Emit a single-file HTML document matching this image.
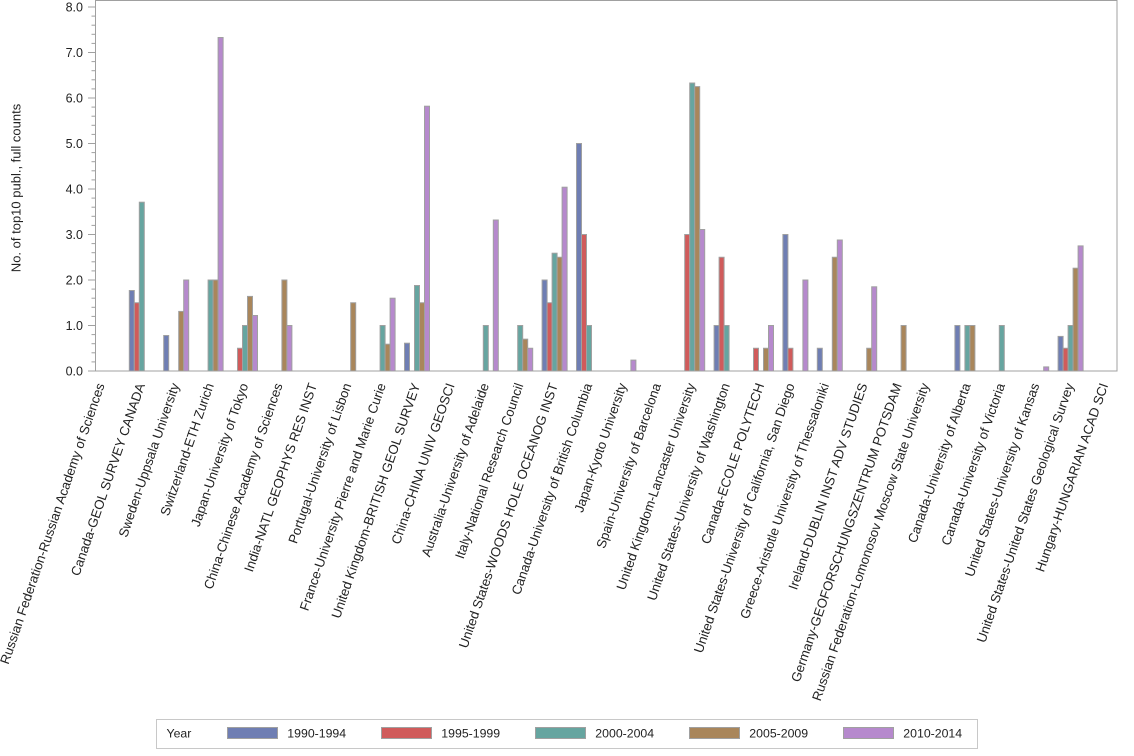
<!DOCTYPE html>
<html>
<head>
<meta charset="utf-8">
<style>
html,body{margin:0;padding:0;background:#fff;}
svg{display:block;}
text{font-family:"Liberation Sans",Arial,sans-serif;fill:#222;}
.tk{font-size:12.5px;text-anchor:end;}
.cat{font-size:13.2px;text-anchor:end;}
.lg{font-size:12.3px;}
.b rect{stroke:#a0a0a0;stroke-width:1;}
</style>
</head>
<body>
<svg width="1134" height="756" viewBox="0 0 1134 756" xmlns="http://www.w3.org/2000/svg">
<rect x="0" y="0" width="1134" height="756" fill="#fff"/>
<rect x="95.5" y="0.5" width="1021.5" height="370.5" fill="none" stroke="#a0a0a0" stroke-width="1"/>
<g stroke="#a0a0a0" stroke-width="1">
<line x1="88" y1="371" x2="95" y2="371"/>
<line x1="88" y1="325.5" x2="95" y2="325.5"/>
<line x1="88" y1="280" x2="95" y2="280"/>
<line x1="88" y1="234.5" x2="95" y2="234.5"/>
<line x1="88" y1="189" x2="95" y2="189"/>
<line x1="88" y1="143.5" x2="95" y2="143.5"/>
<line x1="88" y1="98" x2="95" y2="98"/>
<line x1="88" y1="52.5" x2="95" y2="52.5"/>
<line x1="88" y1="7" x2="95" y2="7"/>
<line x1="91.5" y1="361.9" x2="95" y2="361.9"/><line x1="91.5" y1="352.8" x2="95" y2="352.8"/><line x1="91.5" y1="343.7" x2="95" y2="343.7"/><line x1="91.5" y1="334.6" x2="95" y2="334.6"/>
<line x1="91.5" y1="316.4" x2="95" y2="316.4"/><line x1="91.5" y1="307.3" x2="95" y2="307.3"/><line x1="91.5" y1="298.2" x2="95" y2="298.2"/><line x1="91.5" y1="289.1" x2="95" y2="289.1"/>
<line x1="91.5" y1="270.9" x2="95" y2="270.9"/><line x1="91.5" y1="261.8" x2="95" y2="261.8"/><line x1="91.5" y1="252.7" x2="95" y2="252.7"/><line x1="91.5" y1="243.6" x2="95" y2="243.6"/>
<line x1="91.5" y1="225.4" x2="95" y2="225.4"/><line x1="91.5" y1="216.3" x2="95" y2="216.3"/><line x1="91.5" y1="207.2" x2="95" y2="207.2"/><line x1="91.5" y1="198.1" x2="95" y2="198.1"/>
<line x1="91.5" y1="179.9" x2="95" y2="179.9"/><line x1="91.5" y1="170.8" x2="95" y2="170.8"/><line x1="91.5" y1="161.7" x2="95" y2="161.7"/><line x1="91.5" y1="152.6" x2="95" y2="152.6"/>
<line x1="91.5" y1="134.4" x2="95" y2="134.4"/><line x1="91.5" y1="125.3" x2="95" y2="125.3"/><line x1="91.5" y1="116.2" x2="95" y2="116.2"/><line x1="91.5" y1="107.1" x2="95" y2="107.1"/>
<line x1="91.5" y1="88.9" x2="95" y2="88.9"/><line x1="91.5" y1="79.8" x2="95" y2="79.8"/><line x1="91.5" y1="70.7" x2="95" y2="70.7"/><line x1="91.5" y1="61.6" x2="95" y2="61.6"/>
<line x1="91.5" y1="43.4" x2="95" y2="43.4"/><line x1="91.5" y1="34.3" x2="95" y2="34.3"/><line x1="91.5" y1="25.2" x2="95" y2="25.2"/><line x1="91.5" y1="16.1" x2="95" y2="16.1"/>
</g>
<text class="tk" x="83" y="375.5">0.0</text>
<text class="tk" x="83" y="330">1.0</text>
<text class="tk" x="83" y="284.5">2.0</text>
<text class="tk" x="83" y="239">3.0</text>
<text class="tk" x="83" y="193.5">4.0</text>
<text class="tk" x="83" y="148">5.0</text>
<text class="tk" x="83" y="102.5">6.0</text>
<text class="tk" x="83" y="57">7.0</text>
<text class="tk" x="83" y="11.5">8.0</text>
<text x="20.5" y="188" transform="rotate(-90 20.5 188)" text-anchor="middle" style="font-size:13px">No. of top10 publ., full counts</text>

<g class="b">
<rect x="129.3" y="290.5" width="5" height="80.5" fill="#6f7eb3"/>
<rect x="134.3" y="302.75" width="5" height="68.25" fill="#d05b5b"/>
<rect x="139.3" y="202.2" width="5" height="168.8" fill="#66a5a0"/>
<rect x="163.7" y="335.5" width="5" height="35.5" fill="#6f7eb3"/>
<rect x="178.7" y="311.4" width="5" height="59.6" fill="#a9865b"/>
<rect x="183.7" y="280" width="5" height="91" fill="#b689cd"/>
<rect x="208.1" y="280" width="5" height="91" fill="#66a5a0"/>
<rect x="213.1" y="280" width="5" height="91" fill="#a9865b"/>
<rect x="218.1" y="37.5" width="5" height="333.5" fill="#b689cd"/>
<rect x="237.5" y="348.25" width="5" height="22.75" fill="#d05b5b"/>
<rect x="242.5" y="325.5" width="5" height="45.5" fill="#66a5a0"/>
<rect x="247.5" y="296.4" width="5" height="74.6" fill="#a9865b"/>
<rect x="252.5" y="315.5" width="5" height="55.5" fill="#b689cd"/>
<rect x="281.9" y="280" width="5" height="91" fill="#a9865b"/>
<rect x="286.9" y="325.5" width="5" height="45.5" fill="#b689cd"/>
<rect x="350.7" y="302.75" width="5" height="68.25" fill="#a9865b"/>
<rect x="380.1" y="325.5" width="5" height="45.5" fill="#66a5a0"/>
<rect x="385.1" y="344.2" width="5" height="26.8" fill="#a9865b"/>
<rect x="390.1" y="298.2" width="5" height="72.8" fill="#b689cd"/>
<rect x="404.5" y="343.2" width="5" height="27.8" fill="#6f7eb3"/>
<rect x="414.5" y="285.5" width="5" height="85.5" fill="#66a5a0"/>
<rect x="419.5" y="302.75" width="5" height="68.25" fill="#a9865b"/>
<rect x="424.5" y="106.2" width="5" height="264.8" fill="#b689cd"/>
<rect x="483.3" y="325.5" width="5" height="45.5" fill="#66a5a0"/>
<rect x="493.3" y="220" width="5" height="151" fill="#b689cd"/>
<rect x="517.7" y="325.5" width="5" height="45.5" fill="#66a5a0"/>
<rect x="522.7" y="339.15" width="5" height="31.85" fill="#a9865b"/>
<rect x="527.7" y="348.25" width="5" height="22.75" fill="#b689cd"/>
<rect x="542.1" y="280" width="5" height="91" fill="#6f7eb3"/>
<rect x="547.1" y="302.75" width="5" height="68.25" fill="#d05b5b"/>
<rect x="552.1" y="253.2" width="5" height="117.8" fill="#66a5a0"/>
<rect x="557.1" y="257.25" width="5" height="113.75" fill="#a9865b"/>
<rect x="562.1" y="187.2" width="5" height="183.8" fill="#b689cd"/>
<rect x="576.5" y="143.5" width="5" height="227.5" fill="#6f7eb3"/>
<rect x="581.5" y="234.5" width="5" height="136.5" fill="#d05b5b"/>
<rect x="586.5" y="325.5" width="5" height="45.5" fill="#66a5a0"/>
<rect x="630.9" y="360.1" width="5" height="10.9" fill="#b689cd"/>
<rect x="684.7" y="234.5" width="5" height="136.5" fill="#d05b5b"/>
<rect x="689.7" y="83" width="5" height="288" fill="#66a5a0"/>
<rect x="694.7" y="86.6" width="5" height="284.4" fill="#a9865b"/>
<rect x="699.7" y="229.5" width="5" height="141.5" fill="#b689cd"/>
<rect x="714.1" y="325.5" width="5" height="45.5" fill="#6f7eb3"/>
<rect x="719.1" y="257.25" width="5" height="113.75" fill="#d05b5b"/>
<rect x="724.1" y="325.5" width="5" height="45.5" fill="#66a5a0"/>
<rect x="753.5" y="348.25" width="5" height="22.75" fill="#d05b5b"/>
<rect x="763.5" y="348.25" width="5" height="22.75" fill="#a9865b"/>
<rect x="768.5" y="325.5" width="5" height="45.5" fill="#b689cd"/>
<rect x="782.9" y="234.5" width="5" height="136.5" fill="#6f7eb3"/>
<rect x="787.9" y="348.25" width="5" height="22.75" fill="#d05b5b"/>
<rect x="802.9" y="280" width="5" height="91" fill="#b689cd"/>
<rect x="817.3" y="348.25" width="5" height="22.75" fill="#6f7eb3"/>
<rect x="832.3" y="257.25" width="5" height="113.75" fill="#a9865b"/>
<rect x="837.3" y="240" width="5" height="131" fill="#b689cd"/>
<rect x="866.7" y="348.25" width="5" height="22.75" fill="#a9865b"/>
<rect x="871.7" y="286.8" width="5" height="84.2" fill="#b689cd"/>
<rect x="901.1" y="325.5" width="5" height="45.5" fill="#a9865b"/>
<rect x="954.9" y="325.5" width="5" height="45.5" fill="#6f7eb3"/>
<rect x="964.9" y="325.5" width="5" height="45.5" fill="#66a5a0"/>
<rect x="969.9" y="325.5" width="5" height="45.5" fill="#a9865b"/>
<rect x="999.3" y="325.5" width="5" height="45.5" fill="#66a5a0"/>
<rect x="1043.7" y="366.9" width="5" height="4.1" fill="#b689cd"/>
<rect x="1058.1" y="336.4" width="5" height="34.6" fill="#6f7eb3"/>
<rect x="1063.1" y="348.25" width="5" height="22.75" fill="#d05b5b"/>
<rect x="1068.1" y="325.5" width="5" height="45.5" fill="#66a5a0"/>
<rect x="1073.1" y="268.2" width="5" height="102.8" fill="#a9865b"/>
<rect x="1078.1" y="245.9" width="5" height="125.1" fill="#b689cd"/>
</g>
<line x1="95" y1="371" x2="1117" y2="371" stroke="#a0a0a0" stroke-width="1"/>

<g>
<text class="cat" dy="0.35em" transform="translate(100.4 383.5) rotate(-71)">Russian Federation-Russian Academy of Sciences</text>
<text class="cat" dy="0.35em" transform="translate(140.8 383.5) rotate(-71)">Canada-GEOL SURVEY CANADA</text>
<text class="cat" dy="0.35em" transform="translate(175.2 383.5) rotate(-71)">Sweden-Uppsala University</text>
<text class="cat" dy="0.35em" transform="translate(209.6 383.5) rotate(-71)">Switzerland-ETH Zurich</text>
<text class="cat" dy="0.35em" transform="translate(244.0 383.5) rotate(-71)">Japan-University of Tokyo</text>
<text class="cat" dy="0.35em" transform="translate(278.4 383.5) rotate(-71)">China-Chinese Academy of Sciences</text>
<text class="cat" dy="0.35em" transform="translate(312.8 383.5) rotate(-71)">India-NATL GEOPHYS RES INST</text>
<text class="cat" dy="0.35em" transform="translate(347.2 383.5) rotate(-71)">Portugal-University of Lisbon</text>
<text class="cat" dy="0.35em" transform="translate(381.6 383.5) rotate(-71)">France-University Pierre and Marie Curie</text>
<text class="cat" dy="0.35em" transform="translate(416.0 383.5) rotate(-71)">United Kingdom-BRITISH GEOL SURVEY</text>
<text class="cat" dy="0.35em" transform="translate(450.4 383.5) rotate(-71)">China-CHINA UNIV GEOSCI</text>
<text class="cat" dy="0.35em" transform="translate(484.8 383.5) rotate(-71)">Australia-University of Adelaide</text>
<text class="cat" dy="0.35em" transform="translate(519.2 383.5) rotate(-71)">Italy-National Research Council</text>
<text class="cat" dy="0.35em" transform="translate(553.6 383.5) rotate(-71)">United States-WOODS HOLE OCEANOG INST</text>
<text class="cat" dy="0.35em" transform="translate(588.0 383.5) rotate(-71)">Canada-University of British Columbia</text>
<text class="cat" dy="0.35em" transform="translate(622.4 383.5) rotate(-71)">Japan-Kyoto University</text>
<text class="cat" dy="0.35em" transform="translate(656.8 383.5) rotate(-71)">Spain-University of Barcelona</text>
<text class="cat" dy="0.35em" transform="translate(691.2 383.5) rotate(-71)">United Kingdom-Lancaster University</text>
<text class="cat" dy="0.35em" transform="translate(725.6 383.5) rotate(-71)">United States-University of Washington</text>
<text class="cat" dy="0.35em" transform="translate(760.0 383.5) rotate(-71)">Canada-ECOLE POLYTECH</text>
<text class="cat" dy="0.35em" transform="translate(790.4 383.5) rotate(-71)">United States-University of California, San Diego</text>
<text class="cat" dy="0.35em" transform="translate(824.8 383.5) rotate(-71)">Greece-Aristotle University of Thessaloniki</text>
<text class="cat" dy="0.35em" transform="translate(863.2 383.5) rotate(-71)">Ireland-DUBLIN INST ADV STUDIES</text>
<text class="cat" dy="0.35em" transform="translate(897.6 383.5) rotate(-71)">Germany-GEOFORSCHUNGSZENTRUM POTSDAM</text>
<text class="cat" dy="0.35em" transform="translate(925.0 383.5) rotate(-71)">Russian Federation-Lomonosov Moscow State University</text>
<text class="cat" dy="0.35em" transform="translate(966.4 383.5) rotate(-71)">Canada-University of Alberta</text>
<text class="cat" dy="0.35em" transform="translate(1000.8 383.5) rotate(-71)">Canada-University of Victoria</text>
<text class="cat" dy="0.35em" transform="translate(1035.2 383.5) rotate(-71)">United States-University of Kansas</text>
<text class="cat" dy="0.35em" transform="translate(1069.6 383.5) rotate(-71)">United States-United States Geological Survey</text>
<text class="cat" dy="0.35em" transform="translate(1104.0 383.5) rotate(-71)">Hungary-HUNGARIAN ACAD SCI</text>
</g>

<rect x="156.5" y="719.5" width="821" height="29" fill="none" stroke="#c8c8c8" stroke-width="1"/>
<text class="lg" x="166.5" y="737.5">Year</text>
<g stroke="#a0a0a0" stroke-width="1">
<rect x="227.5" y="727.5" width="50" height="11" fill="#6f7eb3"/>
<rect x="381.5" y="727.5" width="50" height="11" fill="#d05b5b"/>
<rect x="535.5" y="727.5" width="50" height="11" fill="#66a5a0"/>
<rect x="689.5" y="727.5" width="50" height="11" fill="#a9865b"/>
<rect x="843.5" y="727.5" width="50" height="11" fill="#b689cd"/>
</g>
<text class="lg" x="287.3" y="737.5">1990-1994</text>
<text class="lg" x="441.3" y="737.5">1995-1999</text>
<text class="lg" x="595.3" y="737.5">2000-2004</text>
<text class="lg" x="749.3" y="737.5">2005-2009</text>
<text class="lg" x="903.3" y="737.5">2010-2014</text>
</svg>
</body>
</html>
